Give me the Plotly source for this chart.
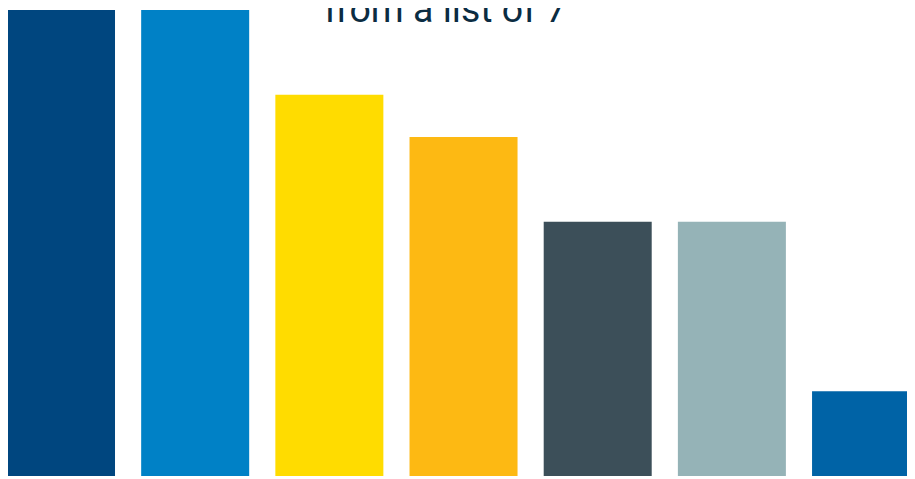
import plotly.graph_objects as go

categories = ["A", "B", "C", "D", "E", "F", "G"]
values = [11, 11, 9, 8, 6, 6, 2]
colors = ["#00467F", "#0081C6", "#FFDC00", "#FDB913", "#3C4F59", "#95B3B7", "#0063A6"]
title_text = "from a list of 7"

fig = go.Figure(go.Bar(x=categories, y=values, marker=dict(color=colors, line=dict(width=0)),
                       hoverinfo="skip"))

fig.update_layout(
    width=923, height=471,
    margin=dict(l=0, r=0, t=0, b=3, pad=0),
    paper_bgcolor="white", plot_bgcolor="white",
    bargap=0.195,
    showlegend=False,
    xaxis=dict(range=[-0.395, 6.484], visible=False),
    yaxis=dict(range=[0, 11.047], visible=False),
    font=dict(family="Roboto"),
)
fig.add_annotation(text=title_text, xref="paper", yref="paper", x=0.474, y=0.9457,
                   xanchor="center", yanchor="bottom", showarrow=False,
                   font=dict(family="Roboto", size=37.5, color="#0B2C42"))

fig.write_html("out.html")
